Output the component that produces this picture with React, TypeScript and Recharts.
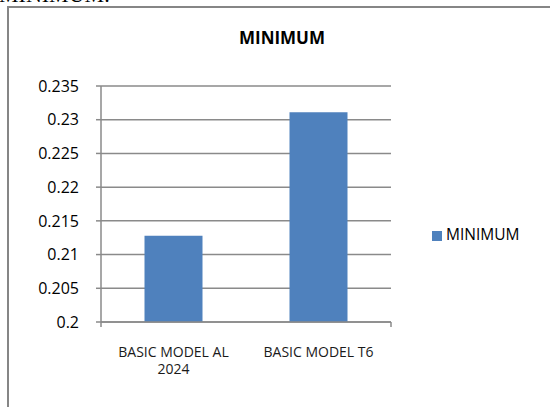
import React from "react";
import { BarChart, Bar, XAxis, YAxis, CartesianGrid, Legend } from "recharts";

const categories = ["BASIC MODEL AL 2024", "BASIC MODEL T6"];
const minimumValues = [0.2128, 0.2311];
const yTicks = [0.2, 0.205, 0.21, 0.215, 0.22, 0.225, 0.23, 0.235];
const boundaryTicks = [0, 1, 2];

const data = categories.map((name, i) => ({ name, minimum: minimumValues[i] }));

const FONT = "'Open Sans', sans-serif";
const GRID = "#8a8a8a";

const wrapLabel = (label: string, maxChars: number) => {
  const lines: string[] = [];
  let line = "";
  label.split(" ").forEach((word) => {
    const next = line ? line + " " + word : word;
    if (next.length > maxChars && line) {
      lines.push(line);
      line = word;
    } else {
      line = next;
    }
  });
  if (line) lines.push(line);
  return lines;
};

const CategoryTick = (props: any) => {
  const { x, y, payload } = props;
  const lines = wrapLabel(String(payload.value), 15);
  return (
    <text x={x} y={y} textAnchor="middle" fontFamily={FONT} fontSize={14} fill="#1a1a1a">
      {lines.map((l, i) => (
        <tspan key={i} x={x} dy={i === 0 ? 14 : 16.7}>
          {l}
        </tspan>
      ))}
    </text>
  );
};

const EmptyTick = () => <g />;

const App = () => {
  return (
    <div
      style={{
        position: "absolute",
        left: 0,
        top: 0,
        width: 550,
        height: 407,
        overflow: "hidden",
        background: "#fff",
      }}
    >
      <div
        style={{
          position: "absolute",
          left: -1,
          top: -18,
          fontFamily: "'Liberation Serif', serif",
          fontSize: 22,
          lineHeight: "normal",
          color: "#000",
          whiteSpace: "nowrap",
        }}
      >
        MINIMUM:
      </div>
      <div
        style={{
          position: "absolute",
          left: 7,
          top: 6,
          width: 600,
          height: 500,
          border: "2px solid #868686",
        }}
      />
      <div
        style={{
          position: "absolute",
          left: 182,
          top: 29,
          width: 200,
          textAlign: "center",
          fontFamily: FONT,
          fontWeight: 700,
          fontSize: 17,
          lineHeight: "17px",
          color: "#000",
        }}
      >
        MINIMUM
      </div>
      <div style={{ position: "absolute", left: 0, top: 0 }}>
        <BarChart
          width={550}
          height={407}
          data={data}
          barCategoryGap="30%"
          margin={{ top: 86, right: 20, left: 41, bottom: 29 }}
        >
          <CartesianGrid vertical={false} stroke={GRID} strokeWidth={1.5} />
          <XAxis
            xAxisId="b"
            dataKey="name"
            height={50}
            axisLine={false}
            tickLine={false}
            tickSize={0}
            tickMargin={15}
            interval={0}
            tick={<CategoryTick />}
          />
          <XAxis
            xAxisId="a"
            type="number"
            domain={[0, 2]}
            allowDataOverflow
            ticks={boundaryTicks}
            interval={0}
            height={6}
            tickSize={5}
            tick={EmptyTick}
            axisLine={{ stroke: GRID, strokeWidth: 1.5 }}
            tickLine={{ stroke: GRID, strokeWidth: 1.5 }}
          />
          <YAxis
            width={60}
            domain={[0.2, 0.235]}
            ticks={yTicks}
            interval={0}
            allowDataOverflow
            tickSize={5}
            tickMargin={17}
            tickFormatter={(v) => String(v)}
            tick={{ fontFamily: FONT, fontSize: 16, fill: "#000" }}
            axisLine={{ stroke: GRID, strokeWidth: 1.5 }}
            tickLine={{ stroke: GRID, strokeWidth: 1.5 }}
          />
          <Legend
            layout="vertical"
            align="right"
            verticalAlign="top"
            iconType="square"
            iconSize={10}
            formatter={(value) => (
              <span style={{ color: "#000", fontFamily: FONT, fontSize: 15.5 }}>{value}</span>
            )}
            wrapperStyle={{ width: 139, paddingLeft: 41, boxSizing: "border-box", top: 223 }}
          />
          <Bar
            xAxisId="b"
            dataKey="minimum"
            name="MINIMUM"
            fill="#4f81bd"
            isAnimationActive={false}
          />
        </BarChart>
      </div>
    </div>
  );
};

export default App;
